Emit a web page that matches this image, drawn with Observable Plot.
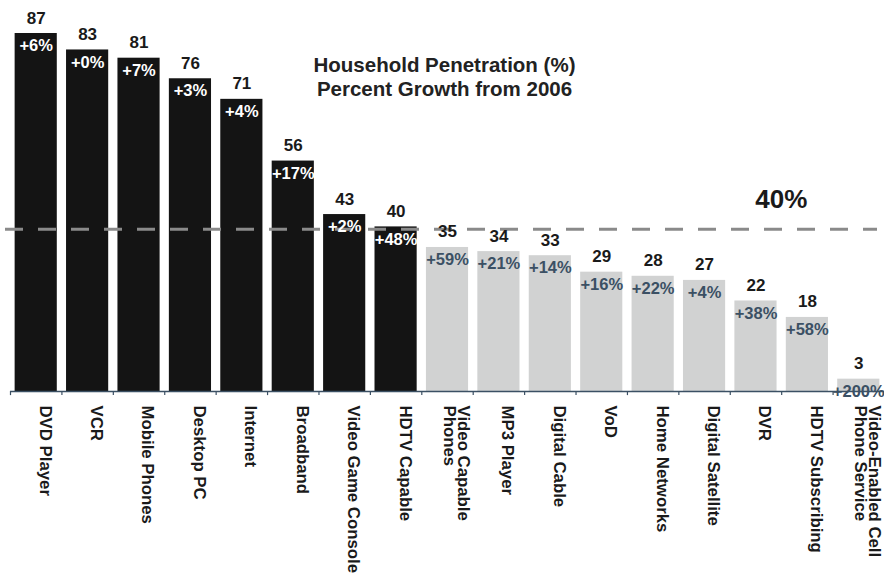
<!DOCTYPE html>
<html><head><meta charset="utf-8">
<script src="https://cdn.jsdelivr.net/npm/d3@7"></script>
<script src="https://cdn.jsdelivr.net/npm/@observablehq/plot@0.6"></script>
<style>body{margin:0;background:#fff;font-family:"Liberation Sans",Arial,sans-serif;}</style>
</head><body><div id="chart"></div>
<script>
const categories = ["DVD Player","VCR","Mobile Phones","Desktop PC","Internet","Broadband","Video Game Console","HDTV Capable","Video Capable\nPhones","MP3 Player","Digital Cable","VoD","Home Networks","Digital Satellite","DVR","HDTV Subscribing","Video-Enabled Cell\nPhone Service"];
const penetration = [87,83,81,76,71,56,43,40,35,34,33,29,28,27,22,18,3];
const growth = ["+6%","+0%","+7%","+3%","+4%","+17%","+2%","+48%","+59%","+21%","+14%","+16%","+22%","+4%","+38%","+58%","+200%"];
const threshold = 40;
const thresholdLabel = "40%";
const titleText = "Household Penetration (%)\nPercent Growth from 2006";

const data = categories.map((c, i) => ({cat: c, value: penetration[i], growth: growth[i], high: penetration[i] >= threshold}));

const W = 884, H = 576, ML = 10, MR = 0;
const step = (W - ML - MR) / categories.length;
const font = "Liberation Sans, Arial, sans-serif";

const chart = Plot.plot({
  width: W, height: H,
  marginLeft: ML, marginRight: MR, marginTop: 33, marginBottom: 185,
  style: {fontFamily: font, background: "#fff"},
  x: {domain: categories, paddingInner: 0.18, paddingOuter: 0.09, round: false, axis: null},
  y: {domain: [0, 87], axis: null},
  marks: [
    Plot.barY(data, {x: "cat", y: "value", fill: d => d.high ? "#141414" : "#d1d2d2"}),
    Plot.ruleY([threshold - 0.6], {stroke: "#8a8a8a", strokeWidth: 3, strokeDasharray: "18,15", insetLeft: -5, insetRight: 7}),
    Plot.text(data, {x: "cat", y: "value", text: d => String(d.value), lineAnchor: "bottom", dy: -10, fontSize: 17, fontWeight: "bold", fill: "#1a1a1a"}),
    Plot.text(data, {x: "cat", y: "value", text: "growth", lineAnchor: "top", dy: 6, fontSize: 16.5, fontWeight: "bold", fill: d => d.high ? "#ffffff" : "#3b5064"}),
    Plot.ruleY([0], {stroke: "#3b5064", strokeWidth: 1.5}),
    Plot.ruleX(categories, {x: d => d, y1: 0, y2: -1, stroke: "#3b5064", strokeWidth: 1.2, dx: -step / 2}),
    Plot.ruleX([categories[categories.length - 1]], {x: d => d, y1: 0, y2: -1, stroke: "#3b5064", strokeWidth: 1.2, dx: step / 2 - 1}),
    Plot.text(categories, {x: d => d, y: 0, text: d => d, rotate: 90, textAnchor: "start", lineAnchor: "middle", dy: 14, dx: 8, fontSize: 16.8, fontWeight: "bold", fill: "#1a1a1a", lineHeight: 0.85}),
    Plot.text([titleText], {x: () => categories[8], y: () => 76.5, text: d => d, dx: -3, fontSize: 20.5, fontWeight: "bold", fill: "#222", lineHeight: 1.15, lineAnchor: "middle"}),
    Plot.text([thresholdLabel], {x: () => categories[15], y: () => 46.6, text: d => d, textAnchor: "end", lineAnchor: "middle", fontSize: 26, fontWeight: "bold", fill: "#1a1a1a"})
  ]
});
document.getElementById("chart").appendChild(chart);
</script>
</body></html>
